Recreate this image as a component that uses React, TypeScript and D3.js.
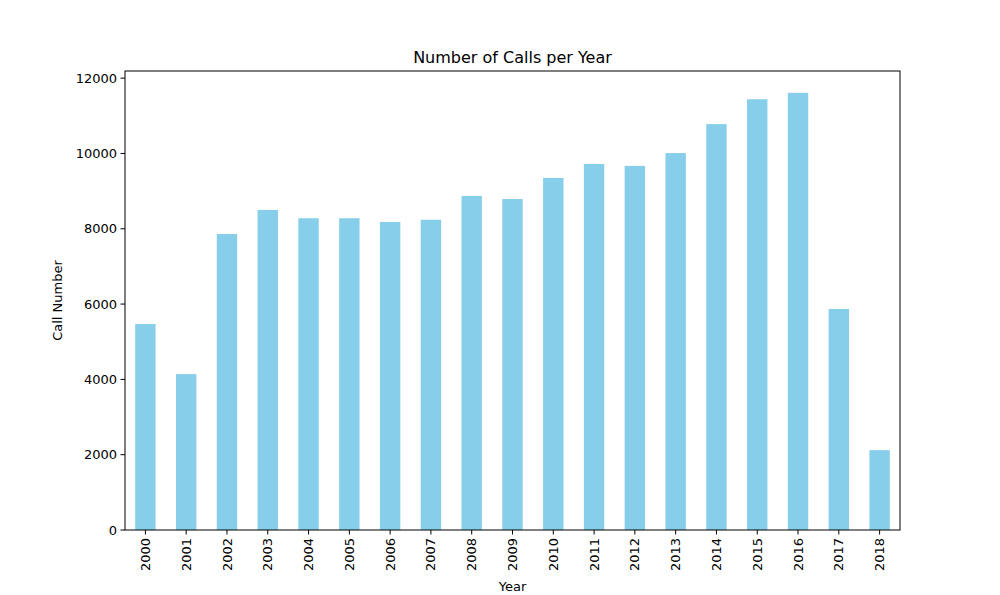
import * as d3 from 'd3';

const years = ['2000','2001','2002','2003','2004','2005','2006','2007','2008','2009','2010','2011','2012','2013','2014','2015','2016','2017','2018'];
const calls = [5470,4140,7860,8500,8280,8280,8180,8240,8870,8790,9350,9720,9670,10010,10780,11440,11610,5870,2120];
const yTicks = [0,2000,4000,6000,8000,10000,12000];

const W = 1000, H = 595;
const m = { left: 125, right: 100, top: 71, bottom: 65 };
const font = 'DejaVu Sans, sans-serif';

export default function App() {
  const x = d3.scaleBand<string>().domain(years).range([m.left, W - m.right]).paddingInner(0.5).paddingOuter(0.25);
  const y = d3.scaleLinear().domain([0, 12190]).range([H - m.bottom, m.top]);
  const base = H - m.bottom;
  return (
    <svg width={W} height={H} style={{ position: 'absolute', left: 0, top: 0, background: '#fff' }} fontFamily={font}>
      {years.map((yr, i) => (
        <rect key={yr} x={x(yr)} y={y(calls[i])} width={x.bandwidth()} height={base - y(calls[i])} fill="#87ceeb" />
      ))}
      <rect x={m.left} y={m.top} width={W - m.left - m.right} height={base - m.top} fill="none" stroke="#000" strokeWidth={1} />
      {yTicks.map(t => (
        <g key={t}>
          <line x1={m.left - 4.5} x2={m.left} y1={y(t)} y2={y(t)} stroke="#000" />
          <text x={m.left - 8} y={y(t)} dy="0.35em" textAnchor="end" fontSize={13}>{t}</text>
        </g>
      ))}
      {years.map(yr => {
        const cx = x(yr)! + x.bandwidth() / 2;
        return (
          <g key={yr}>
            <line x1={cx} x2={cx} y1={base} y2={base + 4.5} stroke="#000" />
            <text transform={`translate(${cx},${base + 8}) rotate(-90)`} dy="0.35em" textAnchor="end" fontSize={13}>{yr}</text>
          </g>
        );
      })}
      <text x={(m.left + W - m.right) / 2} y={63} textAnchor="middle" fontSize={16}>Number of Calls per Year</text>
      <text x={(m.left + W - m.right) / 2} y={591} textAnchor="middle" fontSize={13}>Year</text>
      <text transform={`translate(62,${(m.top + base) / 2}) rotate(-90)`} textAnchor="middle" fontSize={13}>Call Number</text>
    </svg>
  );
}
